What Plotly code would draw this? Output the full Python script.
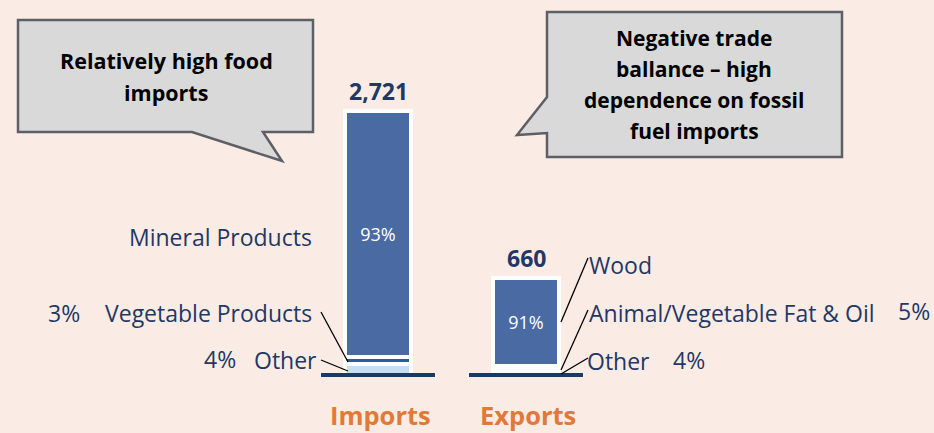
import plotly.graph_objects as go

# ---- data ----------------------------------------------------------------
flows = ["Imports", "Exports"]
totals = [2721, 660]

import_groups = ["Mineral Products", "Vegetable Products", "Other"]
import_shares = [93, 3, 4]

export_groups = ["Wood", "Animal/Vegetable Fat & Oil", "Other"]
export_shares = [91, 5, 4]

# ---- styling -------------------------------------------------------------
W, H = 934, 433
PLOT_H = 400                 # plot area height (bottom margin holds the flow names)
BG = "#FAECE4"
NAVY = "#1F3864"
BAR_BLUE = "#4A6AA4"
FONT = "Open Sans"
LABEL_SIZE = 23

import_colors = [BAR_BLUE, "#2B5C9E", "#C6DDF3"]
export_colors = [BAR_BLUE, "#FFFFFF", "#FFFFFF"]

CAT_STEP = 148               # px between the two bars
CAT0_PX = 378                # px centre of the first bar
BASE_PX = 375                # px of the bars' base line
TOP_PX = [111, 278]          # px of each bar's top
BAR_PX = 66


def px(x):
    return x / W


def py(y):
    return 1 - y / PLOT_H


def y_range(total, top_px):
    per = (BASE_PX - top_px) / total
    lo = -(PLOT_H - BASE_PX) / per
    return [lo, lo + PLOT_H / per]


x_lo = -CAT0_PX / CAT_STEP
x_range = [x_lo, x_lo + W / CAT_STEP]
bar_w = BAR_PX / CAT_STEP

fig = go.Figure()


def add_stack(flow, total, groups, shares, colors, axis):
    # plotly stacks in trace order, so the last group goes in first (bottom)
    for name, share, col in reversed(list(zip(groups, shares, colors))):
        fig.add_trace(go.Bar(
            x=[flow], y=[total * share / 100], name=name, width=bar_w,
            marker=dict(color=col, line=dict(color="white", width=4)),
            text=[f"{share}%"] if share > 50 else None,
            textposition="inside", insidetextanchor="middle", textangle=0,
            textfont=dict(color="white", size=18, family=FONT),
            yaxis=axis, showlegend=False, hoverinfo="skip",
        ))


add_stack(flows[0], totals[0], import_groups, import_shares, import_colors, "y")
add_stack(flows[1], totals[1], export_groups, export_shares, export_colors, "y2")

shapes = []
annotations = []

# base lines under each bar
for i in range(len(flows)):
    shapes.append(dict(type="line", xref="x", yref="y",
                       x0=i - 0.385, x1=i + 0.385, y0=0, y1=0,
                       line=dict(color="#1B3A63", width=4)))

# totals above the bars
for i, (f, t) in enumerate(zip(flows, totals)):
    annotations.append(dict(
        x=f, y=t, xref="x", yref="y" if i == 0 else "y2",
        text=f"<b>{t:,}</b>", showarrow=False, yanchor="bottom", yshift=2,
        font=dict(size=23, color=NAVY, family=FONT)))

# flow names under the base lines
for f in flows:
    annotations.append(dict(
        x=f, y=0, xref="x", yref="y", text=f"<b>{f}</b>", showarrow=False,
        yanchor="top", yshift=-22, xshift=2, borderpad=0,
        font=dict(size=25.5, color="#E07A36", family=FONT)))


def label(x, y, text, anchor, size=LABEL_SIZE, color=NAVY):
    annotations.append(dict(
        x=px(x), y=py(y), xref="paper", yref="paper", text=text,
        showarrow=False, xanchor=anchor, yanchor="middle",
        font=dict(size=size, color=color, family=FONT)))


def leader(x0, y0, x1, y1):
    shapes.append(dict(type="line", xref="paper", yref="paper",
                       x0=px(x0), y0=py(y0), x1=px(x1), y1=py(y1),
                       line=dict(color="black", width=1.3)))


# import segment labels
label(314, 237, import_groups[0], "right")
label(314, 313, import_groups[1], "right")
label(46, 313, f"{import_shares[1]}%", "left")
label(319, 360, import_groups[2], "right")
label(202, 359, f"{import_shares[2]}%", "left")
leader(321, 312, 348, 362)
leader(321, 360, 348, 371)

# export segment labels
label(587, 265, export_groups[0], "left")
label(587, 313, export_groups[1], "left")
label(896, 311, f"{export_shares[1]}%", "left")
label(585, 361, export_groups[2], "left")
label(671, 360, f"{export_shares[2]}%", "left")
leader(588, 258, 561, 322)
leader(588, 310, 561, 370)
leader(588, 358, 561, 374)


# callout boxes
def callout(points):
    d = "M " + " L ".join(f"{px(x):.5f},{py(y):.5f}" for x, y in points) + " Z"
    shapes.append(dict(type="path", xref="paper", yref="paper", path=d,
                       fillcolor="#D9D9D9", line=dict(color="#5E5F66", width=2.5)))


callout([(18, 20), (313, 20), (313, 132), (263, 132), (282, 161),
         (192, 132), (18, 132)])
callout([(547, 12), (842, 12), (842, 157), (547, 157), (547, 133),
         (517, 135), (547, 97)])

for i, line in enumerate(["Relatively high food", "imports"]):
    label(166, 61 + 31 * i, f"<b>{line}</b>", "center", size=21.5, color="black")
for i, line in enumerate(["Negative trade", "ballance – high",
                          "dependence on fossil", "fuel imports"]):
    label(694, 38 + 31 * i, f"<b>{line}</b>", "center", size=21, color="black")

fig.update_layout(
    width=W, height=H,
    margin=dict(l=0, r=0, t=0, b=H - PLOT_H, autoexpand=False),
    paper_bgcolor=BG, plot_bgcolor=BG,
    barmode="stack", bargap=0,
    shapes=shapes, annotations=annotations,
    xaxis=dict(range=x_range, showgrid=False, zeroline=False, showline=False,
               showticklabels=False, automargin=False,
               categoryorder="array", categoryarray=flows),
    yaxis=dict(range=y_range(totals[0], TOP_PX[0]), visible=False,
               automargin=False),
    yaxis2=dict(range=y_range(totals[1], TOP_PX[1]), visible=False,
                overlaying="y", automargin=False),
    font=dict(family=FONT),
)

fig.write_html("out.html")
